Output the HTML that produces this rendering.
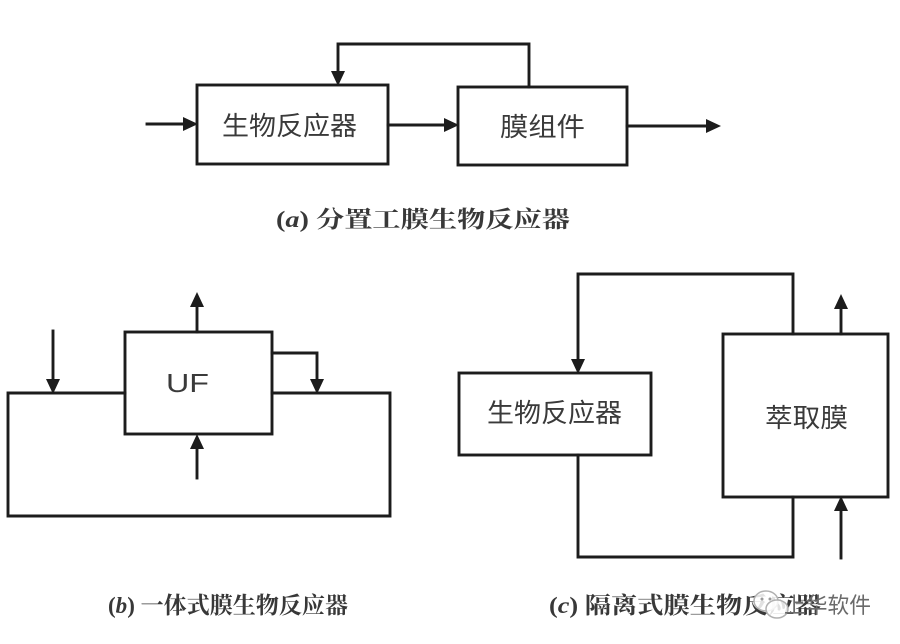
<!DOCTYPE html>
<html>
<head>
<meta charset="utf-8">
<style>
  html, body { margin: 0; padding: 0; background: #ffffff; }
  body { width: 900px; height: 644px; overflow: hidden; }
  svg { display: block; }
  .ln { stroke: #1c1c1c; stroke-width: 2.9; fill: none; stroke-linecap: square; stroke-linejoin: miter; }
  .ah { fill: #1c1c1c; stroke: none; }
  .bx { font-family: "Liberation Sans", "Noto Sans CJK SC", sans-serif; font-size: 26px; fill: #3a3a3a; }
  .cap { font-family: "Liberation Serif", "Noto Serif CJK SC", "Noto Sans CJK SC", serif; font-size: 23px; fill: #383838; font-weight: bold; }
  .wm { font-family: "Liberation Sans", "Noto Sans CJK SC", sans-serif; font-size: 22px; fill: #6a6a6a; }
</style>
</head>
<body>
<svg width="900" height="644" viewBox="0 0 900 644" xmlns="http://www.w3.org/2000/svg">
  <rect x="0" y="0" width="900" height="644" fill="#ffffff"/>

  <!-- ========== Panel (a) ========== -->
  <rect class="ln" x="197" y="85" width="191" height="79"/>
  <rect class="ln" x="458" y="87" width="169" height="78"/>
  <!-- input arrow -->
  <line class="ln" x1="147" y1="124" x2="185" y2="124"/>
  <polygon class="ah" points="198,124 183,117 183,131"/>
  <!-- middle arrow -->
  <line class="ln" x1="388" y1="125" x2="446" y2="125"/>
  <polygon class="ah" points="459,125 444,118 444,132"/>
  <!-- output arrow -->
  <line class="ln" x1="627" y1="126" x2="708" y2="126"/>
  <polygon class="ah" points="721,126 706,119 706,133"/>
  <!-- feedback loop -->
  <polyline class="ln" points="529,87 529,44 338,44 338,73"/>
  <polygon class="ah" points="338,86 331,71 345,71"/>

  <text class="bx" x="222" y="135" textLength="135" lengthAdjust="spacingAndGlyphs">生物反应器</text>
  <text class="bx" x="500" y="136" textLength="85" lengthAdjust="spacingAndGlyphs">膜组件</text>

  <text class="cap" x="276" y="227" textLength="294" lengthAdjust="spacingAndGlyphs">(<tspan font-style="italic">a</tspan>) 分置工膜生物反应器</text>

  <!-- ========== Panel (b) ========== -->
  <polyline class="ln" points="125,393 8,393 8,516 390,516 390,393 272,393"/>
  <rect class="ln" x="125" y="332" width="147" height="102"/>
  <!-- top output arrow -->
  <line class="ln" x1="197" y1="332" x2="197" y2="305"/>
  <polygon class="ah" points="197,292 190,307 204,307"/>
  <!-- feed arrow -->
  <line class="ln" x1="53" y1="331" x2="53" y2="381"/>
  <polygon class="ah" points="53,394 46,379 60,379"/>
  <!-- right recycle -->
  <polyline class="ln" points="272,353 317,353 317,381"/>
  <polygon class="ah" points="317,394 310,379 324,379"/>
  <!-- bottom arrow -->
  <line class="ln" x1="197" y1="478" x2="197" y2="447"/>
  <polygon class="ah" points="197,434 190,449 204,449"/>

  <text class="bx" x="166" y="392" font-size="24" textLength="43" lengthAdjust="spacingAndGlyphs">UF</text>

  <text class="cap" x="108" y="613" textLength="240" lengthAdjust="spacingAndGlyphs">(<tspan font-style="italic">b</tspan>) 一体式膜生物反应器</text>

  <!-- ========== Panel (c) ========== -->
  <rect class="ln" x="459" y="373" width="192" height="82"/>
  <rect class="ln" x="723" y="334" width="165" height="163"/>
  <!-- top loop -->
  <polyline class="ln" points="793,334 793,274 578,274 578,361"/>
  <polygon class="ah" points="578,374 571,359 585,359"/>
  <!-- bottom loop -->
  <polyline class="ln" points="578,455 578,557 793,557 793,497"/>
  <!-- up arrow top -->
  <line class="ln" x1="841" y1="334" x2="841" y2="307"/>
  <polygon class="ah" points="841,294 834,309 848,309"/>
  <!-- bottom inlet arrow -->
  <line class="ln" x1="841" y1="558" x2="841" y2="509"/>
  <polygon class="ah" points="841,496 834,511 848,511"/>

  <text class="bx" x="487" y="422" textLength="135" lengthAdjust="spacingAndGlyphs">生物反应器</text>
  <text class="bx" x="765" y="427" textLength="83" lengthAdjust="spacingAndGlyphs">萃取膜</text>

  <text class="cap" x="549" y="613" textLength="272" lengthAdjust="spacingAndGlyphs">(<tspan font-style="italic">c</tspan>) 隔离式膜生物反应器</text>

  <!-- watermark -->
  <ellipse cx="766" cy="601" rx="12" ry="10" fill="#ffffff" fill-opacity="0.85" stroke="#b0b0b0" stroke-width="1.5"/>
  <ellipse cx="777" cy="609" rx="11" ry="9" fill="#ffffff" fill-opacity="0.85" stroke="#b0b0b0" stroke-width="1.5"/>
  <circle cx="762" cy="599" r="1.5" fill="#9a9a9a"/>
  <circle cx="770" cy="599" r="1.5" fill="#9a9a9a"/>
  <text class="wm" x="784" y="613" textLength="87" lengthAdjust="spacingAndGlyphs">上华软件</text>
</svg>
</body>
</html>
